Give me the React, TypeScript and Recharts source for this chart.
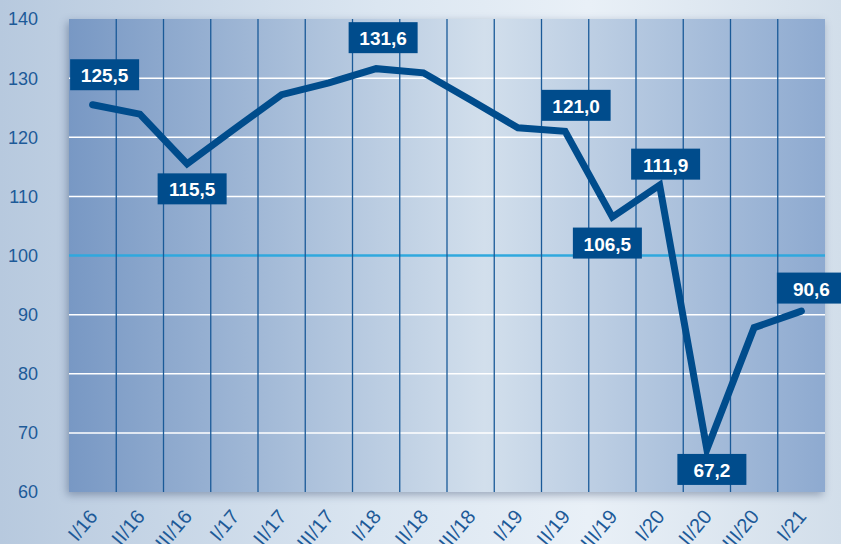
import React from "react";
import {
  LineChart,
  Line,
  XAxis,
  YAxis,
  CartesianGrid,
  ReferenceLine,
} from "recharts";

// quarters (Roman numeral / year)
const quarters = [
  "I/16", "II/16", "III/16", "I/17", "II/17", "III/17", "I/18", "II/18",
  "III/18", "I/19", "II/19", "III/19", "I/20", "II/20", "III/20", "I/21",
];

const indexValues = [
  125.5, 123.9, 115.5, 121.4, 127.2, 129.2, 131.6, 130.9,
  126.3, 121.6, 121.0, 106.5, 111.9, 67.2, 87.8, 90.6,
];

// which points get a value box
const labelledPoints = [0, 2, 6, 10, 11, 12, 13, 15];

const yTicks = [60, 70, 80, 90, 100, 110, 120, 130, 140];
const whiteLines = [70, 80, 90, 110, 120, 130];

// box centre relative to the point, px
const boxOffsets: Record<number, [number, number]> = {
  0: [12, -30],
  2: [5, 25],
  6: [7, -31],
  10: [11, -26],
  11: [-5, 26],
  12: [6, -21],
  13: [5, 20],
  15: [10, -23],
};

const chartData = quarters.map((q, i) => ({ i, q, value: indexValues[i] }));
const bandEdges = quarters.slice(1).map((_, i) => i + 0.5);

const DARK = "#004c8c";
const TEXT = "#1d5a98";

const fmt = (v: number) => v.toFixed(1).replace(".", ",");

const ValueBox = (props: any) => {
  const { x, y, index, value } = props;
  if (!labelledPoints.includes(index)) return null;
  const [dx, dy] = boxOffsets[index] || [0, -25];
  const w = 69;
  const h = 31;
  const cx = x + dx;
  const cy = y + dy;
  return (
    <g>
      <rect x={cx - w / 2} y={cy - h / 2} width={w} height={h} fill={DARK} />
      <text
        x={cx}
        y={cy + 1}
        textAnchor="middle"
        dominantBaseline="central"
        fill="#fff"
        fontSize={19}
        fontWeight="bold"
        fontFamily="Liberation Sans, Arial, sans-serif"
      >
        {fmt(value)}
      </text>
    </g>
  );
};

const QuarterTick = (props: any) => {
  const { x, y, payload } = props;
  const ax = x + 6;
  const ay = y + 23;
  return (
    <text
      x={ax}
      y={ay}
      transform={`rotate(-50 ${ax} ${ay})`}
      textAnchor="end"
      fill={TEXT}
      fontSize={20}
      fontFamily="Liberation Sans, Arial, sans-serif"
    >
      {quarters[payload.value]}
    </text>
  );
};

export default function App() {
  return (
    <div
      style={{
        width: 841,
        height: 544,
        background:
          "linear-gradient(90deg, #b7c9de 0%, #dbe6f1 45%, #e9f0f7 70%, #d2deea 100%)",
      }}
    >
      <style>{`
        body { margin: 0; }
        .recharts-cartesian-grid-bg { filter: drop-shadow(-2px 3px 4px rgba(20,40,80,0.35)); }
      `}</style>
      <LineChart
        width={841}
        height={544}
        data={chartData}
        margin={{ top: 19, right: 16, bottom: 0, left: 0 }}
      >
        <defs>
          <linearGradient id="plotBg" x1="0" y1="0" x2="1" y2="0">
            <stop offset="0%" stopColor="#7898c4" />
            <stop offset="55%" stopColor="#d2dfec" />
            <stop offset="100%" stopColor="#8eaad0" />
          </linearGradient>
        </defs>
        <CartesianGrid
          horizontal={false}
          vertical={false}
          fill="url(#plotBg)"
          fillOpacity={1}
        />
        <XAxis
          dataKey="i"
          type="number"
          height={52}
          domain={[-0.5, quarters.length - 0.5]}
          ticks={chartData.map((d) => d.i)}
          interval={0}
          axisLine={false}
          tickLine={false}
          tickSize={0}
          tick={<QuarterTick />}
        />
        <YAxis
          width={69}
          domain={[60, 140]}
          ticks={yTicks}
          axisLine={false}
          tickLine={false}
          tickSize={0}
          tickMargin={31}
          tick={{ fill: TEXT, fontSize: 18, fontFamily: "Liberation Sans, Arial, sans-serif" }}
        />
        {whiteLines.map((v) => (
          <ReferenceLine key={`h${v}`} y={v} stroke="#ffffff" strokeWidth={1.5} />
        ))}
        <ReferenceLine y={100} stroke="#2fa8de" strokeWidth={2.5} />
        {bandEdges.map((v) => (
          <ReferenceLine key={`v${v}`} x={v} stroke="#1a5a98" strokeWidth={1.3} />
        ))}
        <Line
          type="linear"
          dataKey="value"
          stroke={DARK}
          strokeWidth={7}
          strokeLinecap="round"
          dot={false}
          activeDot={false}
          isAnimationActive={false}
          label={<ValueBox />}
        />
      </LineChart>
    </div>
  );
}
